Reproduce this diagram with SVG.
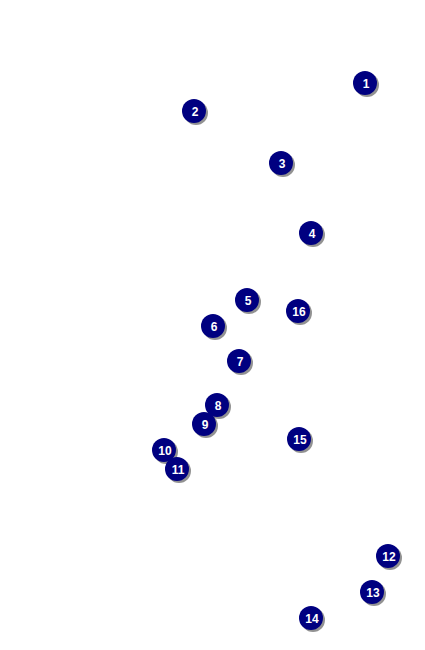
<svg xmlns="http://www.w3.org/2000/svg" width="425" height="650" viewBox="0 0 425 650">
<style>
.sh{fill:#777;opacity:0.8}
.c{fill:#000080}
.t{fill:#fff;font-family:"Liberation Sans",Arial,sans-serif;font-weight:bold;font-size:12px;text-anchor:middle}
</style>
<defs>
<g id="m"><circle class="sh" cx="2" cy="2" r="12"/><circle class="c" cx="0" cy="0" r="12"/></g>
</defs>
<rect width="425" height="650" fill="#fff"/>
<g id="n1" transform="translate(365,83)"><use href="#m"/><text class="t" x="1" y="5">1</text></g>
<g id="n2" transform="translate(194,111)"><use href="#m"/><text class="t" x="1" y="5">2</text></g>
<g id="n3" transform="translate(281,163)"><use href="#m"/><text class="t" x="1" y="5">3</text></g>
<g id="n4" transform="translate(311,233)"><use href="#m"/><text class="t" x="1" y="5">4</text></g>
<g id="n5" transform="translate(247,300)"><use href="#m"/><text class="t" x="1" y="5">5</text></g>
<g id="n6" transform="translate(213,326)"><use href="#m"/><text class="t" x="1" y="5">6</text></g>
<g id="n7" transform="translate(239,361)"><use href="#m"/><text class="t" x="1" y="5">7</text></g>
<g id="n8" transform="translate(217,405)"><use href="#m"/><text class="t" x="1" y="5">8</text></g>
<g id="n9" transform="translate(204,424)"><use href="#m"/><text class="t" x="1" y="5">9</text></g>
<g id="n10" transform="translate(164,450)"><use href="#m"/><text class="t" x="1" y="5">10</text></g>
<g id="n11" transform="translate(177,469)"><use href="#m"/><text class="t" x="1" y="5">11</text></g>
<g id="n12" transform="translate(388,556)"><use href="#m"/><text class="t" x="1" y="5">12</text></g>
<g id="n13" transform="translate(372,592)"><use href="#m"/><text class="t" x="1" y="5">13</text></g>
<g id="n14" transform="translate(311,618)"><use href="#m"/><text class="t" x="1" y="5">14</text></g>
<g id="n15" transform="translate(299,439)"><use href="#m"/><text class="t" x="1" y="5">15</text></g>
<g id="n16" transform="translate(298,311)"><use href="#m"/><text class="t" x="1" y="5">16</text></g>
<g id="connectors"/>
</svg>
